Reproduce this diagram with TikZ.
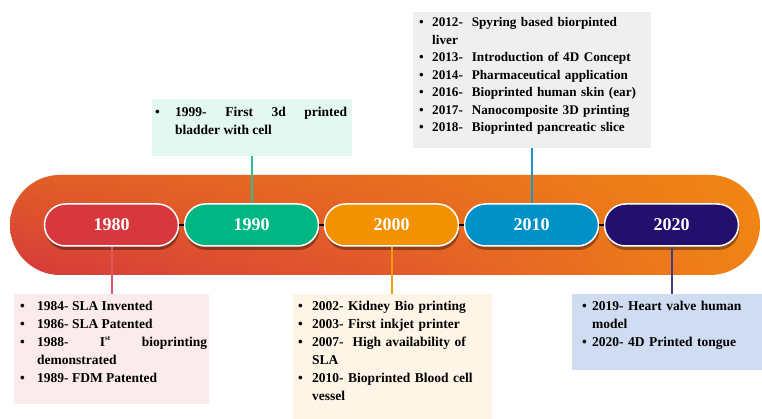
\documentclass[tikz,border=0pt]{standalone}
\usepackage{fontspec}
\setmainfont{Liberation Serif}
\usetikzlibrary{shadows,fadings}
\definecolor{bandL}{HTML}{D63A3C}
\definecolor{bandM}{HTML}{E2582C}
\definecolor{bandR}{HTML}{F08416}
\definecolor{bandT}{HTML}{F08A10}
\definecolor{cA}{HTML}{D6383E}
\definecolor{cB}{HTML}{00B683}
\definecolor{cC}{HTML}{F39200}
\definecolor{cD}{HTML}{0091C8}
\definecolor{cE}{HTML}{23106E}
\definecolor{lnA}{HTML}{E05560}
\definecolor{lnB}{HTML}{2BBF95}
\definecolor{lnC}{HTML}{F39A10}
\definecolor{lnD}{HTML}{1A96C8}
\definecolor{lnE}{HTML}{4A3A8A}
\definecolor{bxA}{HTML}{FCEBEC}
\definecolor{bxB}{HTML}{FEF5E7}
\definecolor{bxC}{HTML}{CFDCF1}
\definecolor{bxD}{HTML}{E2F8F0}
\definecolor{bxE}{HTML}{EFEFEF}
\tikzfading[name=topglow, top color=transparent!55, bottom color=transparent!100]
\newlength\bhang
\newcommand\bitem[1]{\par\noindent\hangindent=\bhang\hangafter=1\makebox[\bhang][l]{\textbullet}#1\par}
\begin{document}
\begin{tikzpicture}[x=1pt,y=-1pt,
  pill/.style={draw=white, line width=1.5pt, rounded corners=21pt, minimum width=134pt, minimum height=42pt,
    text=white, font=\fontsize{18}{20}\selectfont\bfseries,
    drop shadow={shadow xshift=1pt, shadow yshift=-4pt, opacity=0.35, fill=black}},
  infobox/.style={anchor=north west, inner sep=0pt},
  boxtext/.style={anchor=north west, inner sep=0pt, font=\fontsize{13.5}{18}\selectfont\bfseries},
  link/.style={line width=1.3pt, draw=black},
  conn/.style={line width=2pt}]
\useasboundingbox (0,0) rectangle (762,419);
% band
\shade[left color=bandL, right color=bandR, middle color=bandM, rounded corners=50pt] (10,175) rectangle (760,275);
\fill[bandT, path fading=topglow, rounded corners=50pt] (10,175) rectangle (760,275);
% info boxes
\node[infobox, fill=bxA, minimum width=195pt, minimum height=110pt] (b1) at (14,294) {};
\node[infobox, fill=bxB, minimum width=199pt, minimum height=130pt] (b2) at (293,294) {};
\node[infobox, fill=bxC, minimum width=200pt, minimum height=76pt] (b3) at (572,294) {};
\node[infobox, fill=bxD, minimum width=200pt, minimum height=57pt] (b4) at (152,99) {};
\node[infobox, fill=bxE, minimum width=238pt, minimum height=136pt] (b5) at (413,12) {};
% pills
\node[pill, fill=cA] (p1) at (111.5,225) {1980};
\node[pill, fill=cB] (p2) at (251.5,225) {1990};
\node[pill, fill=cC] (p3) at (391.5,225) {2000};
\node[pill, fill=cD] (p4) at (531.5,225) {2010};
\node[pill, fill=cE] (p5) at (671.5,225) {2020};
\draw[link] (p1.east) -- (p2.west);
\draw[link] (p2.east) -- (p3.west);
\draw[link] (p3.east) -- (p4.west);
\draw[link] (p4.east) -- (p5.west);
% connectors
\draw[lnA, conn] (p1.south) -- (p1.south |- b1.north);
\draw[lnB, conn] (p2.north) -- (p2.north |- b4.south);
\draw[lnC, conn] (p3.south) -- (p3.south |- b2.north);
\draw[lnD, conn] (p4.north) -- (p4.north |- b5.south);
\draw[lnE, conn] (p5.south) -- (p5.south |- b3.north);
% texts
\node[boxtext, text width=187pt, align=justify] (t1) at ([xshift=6pt,yshift=2pt]b1.north west) {%
\setlength\bhang{17pt}%
\bitem{1984- SLA Invented}
\bitem{1986- SLA Patented}
\bitem{1988- I\textsuperscript{\fontsize{7}{7}\selectfont st} bioprinting\linebreak demonstrated}
\bitem{1989- FDM Patented}};
\node[boxtext, text width=190pt, align=left] (t2) at ([xshift=5pt,yshift=2pt]b2.north west) {%
\setlength\bhang{14pt}%
\bitem{2002- Kidney Bio printing}
\bitem{2003- First inkjet printer}
\bitem{2007-~ High availability of\newline SLA}
\bitem{2010- Bioprinted Blood cell\newline vessel}};
\node[boxtext, text width=178pt, align=left] (t3) at ([xshift=10pt,yshift=2pt]b3.north west) {%
\setlength\bhang{10pt}%
\bitem{2019- Heart valve human\newline model}
\bitem{2020- 4D Printed tongue}};
\node[boxtext, text width=192pt, align=justify] (t4) at ([xshift=3pt,yshift=1pt]b4.north west) {%
\setlength\bhang{20pt}%
\bitem{1999- First 3d printed\linebreak bladder with cell}};
\node[boxtext, text width=225pt, align=left, font=\fontsize{13.2}{17.5}\selectfont\bfseries] (t5) at ([xshift=6pt,yshift=3pt]b5.north west) {%
\setlength\bhang{13pt}%
\bitem{2012-~~Spyring based biorpinted\newline liver}
\bitem{2013-~~Introduction of 4D Concept}
\bitem{2014-~~Pharmaceutical application}
\bitem{2016-~~Bioprinted human skin (ear)}
\bitem{2017-~~Nanocomposite 3D printing}
\bitem{2018-~~Bioprinted pancreatic slice}};
\end{tikzpicture}
\end{document}
